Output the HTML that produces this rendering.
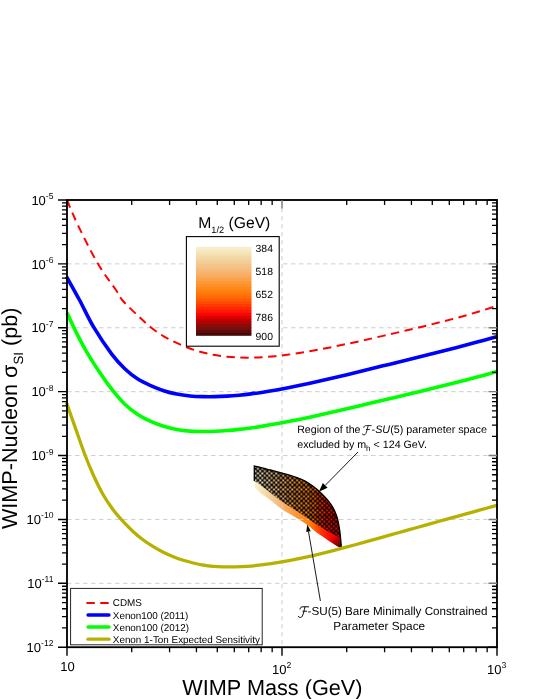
<!DOCTYPE html>
<html><head><meta charset="utf-8"><title>WIMP-Nucleon cross-section</title>
<style>html,body{margin:0;padding:0;background:#fff;}body{width:540px;height:699px;overflow:hidden;}svg{display:block;will-change:transform;}text{font-family:'Liberation Sans', sans-serif;fill:#000;text-rendering:geometricPrecision;}</style></head><body>
<svg width="540" height="699" viewBox="0 0 540 699">
<defs>
<linearGradient id="wg" gradientUnits="userSpaceOnUse" x1="255" y1="500" x2="341" y2="500"><stop offset="0.000" stop-color="#F7F2D2"/><stop offset="0.090" stop-color="#F4E1B3"/><stop offset="0.180" stop-color="#F2CF98"/><stop offset="0.270" stop-color="#F5BD7E"/><stop offset="0.357" stop-color="#F8AB5E"/><stop offset="0.440" stop-color="#FB9D42"/><stop offset="0.523" stop-color="#FD8F27"/><stop offset="0.593" stop-color="#FE8818"/><stop offset="0.651" stop-color="#FF7D0D"/><stop offset="0.714" stop-color="#FF5402"/><stop offset="0.777" stop-color="#FF2F03"/><stop offset="0.840" stop-color="#FF1408"/><stop offset="0.900" stop-color="#F80B04"/><stop offset="1.000" stop-color="#F10100"/></linearGradient>
<radialGradient id="tip" gradientUnits="userSpaceOnUse" cx="342.2" cy="548.6" r="19"><stop offset="0" stop-color="#300404" stop-opacity="1"/><stop offset="0.2" stop-color="#500606" stop-opacity="1"/><stop offset="0.42" stop-color="#900404" stop-opacity="0.95"/><stop offset="0.6" stop-color="#B80000" stop-opacity="0.85"/><stop offset="0.82" stop-color="#E80000" stop-opacity="0.35"/><stop offset="1" stop-color="#F80000" stop-opacity="0"/></radialGradient>
<pattern id="hatch" patternUnits="userSpaceOnUse" x="253.3" y="466.5" width="23.00" height="23.00"><path d="M-1.00 -24.00 L24.00 1.00 M-1.00 1.00 L24.00 -24.00 M-1.00 -19.40 L24.00 5.60 M-1.00 5.60 L24.00 -19.40 M-1.00 -14.80 L24.00 10.20 M-1.00 10.20 L24.00 -14.80 M-1.00 -10.20 L24.00 14.80 M-1.00 14.80 L24.00 -10.20 M-1.00 -5.60 L24.00 19.40 M-1.00 19.40 L24.00 -5.60 M-1.00 -1.00 L24.00 24.00 M-1.00 24.00 L24.00 -1.00 M-1.00 3.60 L24.00 28.60 M-1.00 28.60 L24.00 3.60 M-1.00 8.20 L24.00 33.20 M-1.00 33.20 L24.00 8.20 M-1.00 12.80 L24.00 37.80 M-1.00 37.80 L24.00 12.80 M-1.00 17.40 L24.00 42.40 M-1.00 42.40 L24.00 17.40 M-1.00 22.00 L24.00 47.00 M-1.00 47.00 L24.00 22.00" stroke="#000" stroke-width="1.00" fill="none"/><circle cx="0.00" cy="0.00" r="1.35"/><circle cx="0.00" cy="4.60" r="1.35"/><circle cx="0.00" cy="9.20" r="1.35"/><circle cx="0.00" cy="13.80" r="1.35"/><circle cx="0.00" cy="18.40" r="1.35"/><circle cx="0.00" cy="23.00" r="1.35"/><circle cx="2.30" cy="2.30" r="1.35"/><circle cx="2.30" cy="6.90" r="1.35"/><circle cx="2.30" cy="11.50" r="1.35"/><circle cx="2.30" cy="16.10" r="1.35"/><circle cx="2.30" cy="20.70" r="1.35"/><circle cx="4.60" cy="0.00" r="1.35"/><circle cx="4.60" cy="4.60" r="1.35"/><circle cx="4.60" cy="9.20" r="1.35"/><circle cx="4.60" cy="13.80" r="1.35"/><circle cx="4.60" cy="18.40" r="1.35"/><circle cx="4.60" cy="23.00" r="1.35"/><circle cx="6.90" cy="2.30" r="1.35"/><circle cx="6.90" cy="6.90" r="1.35"/><circle cx="6.90" cy="11.50" r="1.35"/><circle cx="6.90" cy="16.10" r="1.35"/><circle cx="6.90" cy="20.70" r="1.35"/><circle cx="9.20" cy="0.00" r="1.35"/><circle cx="9.20" cy="4.60" r="1.35"/><circle cx="9.20" cy="9.20" r="1.35"/><circle cx="9.20" cy="13.80" r="1.35"/><circle cx="9.20" cy="18.40" r="1.35"/><circle cx="9.20" cy="23.00" r="1.35"/><circle cx="11.50" cy="2.30" r="1.35"/><circle cx="11.50" cy="6.90" r="1.35"/><circle cx="11.50" cy="11.50" r="1.35"/><circle cx="11.50" cy="16.10" r="1.35"/><circle cx="11.50" cy="20.70" r="1.35"/><circle cx="13.80" cy="0.00" r="1.35"/><circle cx="13.80" cy="4.60" r="1.35"/><circle cx="13.80" cy="9.20" r="1.35"/><circle cx="13.80" cy="13.80" r="1.35"/><circle cx="13.80" cy="18.40" r="1.35"/><circle cx="13.80" cy="23.00" r="1.35"/><circle cx="16.10" cy="2.30" r="1.35"/><circle cx="16.10" cy="6.90" r="1.35"/><circle cx="16.10" cy="11.50" r="1.35"/><circle cx="16.10" cy="16.10" r="1.35"/><circle cx="16.10" cy="20.70" r="1.35"/><circle cx="18.40" cy="0.00" r="1.35"/><circle cx="18.40" cy="4.60" r="1.35"/><circle cx="18.40" cy="9.20" r="1.35"/><circle cx="18.40" cy="13.80" r="1.35"/><circle cx="18.40" cy="18.40" r="1.35"/><circle cx="18.40" cy="23.00" r="1.35"/><circle cx="20.70" cy="2.30" r="1.35"/><circle cx="20.70" cy="6.90" r="1.35"/><circle cx="20.70" cy="11.50" r="1.35"/><circle cx="20.70" cy="16.10" r="1.35"/><circle cx="20.70" cy="20.70" r="1.35"/><circle cx="23.00" cy="0.00" r="1.35"/><circle cx="23.00" cy="4.60" r="1.35"/><circle cx="23.00" cy="9.20" r="1.35"/><circle cx="23.00" cy="13.80" r="1.35"/><circle cx="23.00" cy="18.40" r="1.35"/><circle cx="23.00" cy="23.00" r="1.35"/></pattern>
</defs>
<rect width="540" height="699" fill="#fff"/>
<path d="M254.30 466.00 C255.58 466.30 259.35 467.13 262.00 467.80 C264.65 468.47 266.98 469.13 270.20 470.00 C273.42 470.87 277.60 472.00 281.30 473.00 C285.00 474.00 289.07 474.95 292.40 476.00 C295.73 477.05 298.70 478.17 301.30 479.30 C303.90 480.43 305.17 480.92 308.00 482.80 C310.83 484.68 314.53 487.08 318.30 490.60 C322.07 494.12 327.53 499.65 330.60 503.90 C333.67 508.15 335.18 511.68 336.70 516.10 C338.22 520.52 338.93 525.33 339.70 530.40 C340.47 535.47 341.03 543.82 341.30 546.50 L341.50 548.30 C340.35 547.65 337.10 545.92 334.60 544.40 C332.10 542.88 329.55 541.23 326.50 539.20 C323.45 537.17 319.38 534.47 316.30 532.20 C313.22 529.93 310.68 527.60 308.00 525.60 C305.32 523.60 302.80 521.88 300.20 520.20 C297.60 518.52 295.55 517.42 292.40 515.50 C289.25 513.58 285.00 511.28 281.30 508.70 C277.60 506.12 273.90 502.78 270.20 500.00 C266.50 497.22 261.67 494.03 259.10 492.00 C256.53 489.97 255.52 488.50 254.80 487.80 Z" fill="url(#wg)"/>
<path d="M254.30 466.00 C255.58 466.30 259.35 467.13 262.00 467.80 C264.65 468.47 266.98 469.13 270.20 470.00 C273.42 470.87 277.60 472.00 281.30 473.00 C285.00 474.00 289.07 474.95 292.40 476.00 C295.73 477.05 298.70 478.17 301.30 479.30 C303.90 480.43 305.17 480.92 308.00 482.80 C310.83 484.68 314.53 487.08 318.30 490.60 C322.07 494.12 327.53 499.65 330.60 503.90 C333.67 508.15 335.18 511.68 336.70 516.10 C338.22 520.52 338.93 525.33 339.70 530.40 C340.47 535.47 341.03 543.82 341.30 546.50 L341.50 548.30 C340.35 547.65 337.10 545.92 334.60 544.40 C332.10 542.88 329.55 541.23 326.50 539.20 C323.45 537.17 319.38 534.47 316.30 532.20 C313.22 529.93 310.68 527.60 308.00 525.60 C305.32 523.60 302.80 521.88 300.20 520.20 C297.60 518.52 295.55 517.42 292.40 515.50 C289.25 513.58 285.00 511.28 281.30 508.70 C277.60 506.12 273.90 502.78 270.20 500.00 C266.50 497.22 261.67 494.03 259.10 492.00 C256.53 489.97 255.52 488.50 254.80 487.80 Z" fill="url(#tip)"/>
<path d="M67.0 263.89 H497.0 M67.0 327.77 H497.0 M67.0 391.66 H497.0 M67.0 455.54 H497.0 M67.0 519.43 H497.0 M67.0 583.31 H497.0 M282.00 200.0 V647.2" stroke="#CBCBCB" stroke-width="0.95" stroke-dasharray="4.5 3.5" fill="none"/>
<path d="M67.00 200.00 C68.93 204.43 73.42 215.92 78.60 226.60 C83.78 237.28 91.90 253.57 98.10 264.10 C104.30 274.63 111.78 283.82 115.80 289.80 C119.82 295.78 118.53 295.70 122.20 300.00 C125.87 304.30 133.05 311.07 137.80 315.60 C142.55 320.13 146.38 323.75 150.70 327.20 C155.02 330.65 159.37 333.68 163.70 336.30 C168.03 338.92 172.32 340.87 176.70 342.91 C181.08 344.94 185.62 346.93 190.00 348.53 C194.38 350.14 198.83 351.45 203.00 352.54 C207.17 353.63 211.00 354.39 215.00 355.08 C219.00 355.78 223.00 356.30 227.00 356.71 C231.00 357.11 235.00 357.37 239.00 357.52 C243.00 357.68 247.00 357.70 251.00 357.65 C255.00 357.59 259.00 357.42 263.00 357.17 C267.00 356.93 271.00 356.59 275.00 356.20 C279.00 355.81 283.00 355.33 287.00 354.81 C291.00 354.28 295.00 353.69 299.00 353.07 C303.00 352.44 307.00 351.76 311.00 351.06 C315.00 350.35 319.00 349.60 323.00 348.82 C327.00 348.05 331.00 347.25 335.00 346.43 C339.00 345.61 343.00 344.76 347.00 343.90 C351.00 343.05 355.00 342.17 359.00 341.29 C363.00 340.40 367.00 339.51 371.00 338.61 C375.00 337.70 379.00 336.79 383.00 335.87 C387.00 334.96 391.00 334.03 395.00 333.10 C399.00 332.17 403.00 331.24 407.00 330.29 C411.00 329.34 415.00 328.39 419.00 327.43 C423.00 326.46 427.00 325.49 431.00 324.50 C435.00 323.51 439.00 322.51 443.00 321.49 C447.00 320.46 451.00 319.42 455.00 318.35 C459.00 317.28 463.00 316.18 467.00 315.05 C471.00 313.91 475.00 312.75 479.00 311.53 C483.00 310.31 488.00 308.71 491.00 307.74 C494.00 306.77 496.00 306.06 497.00 305.72" fill="none" stroke="#FF0000" stroke-width="2" stroke-dasharray="8.4 5.5"/>
<path d="M66.50 276.60 C68.67 280.50 74.97 291.57 79.50 300.00 C84.03 308.43 88.30 318.13 93.70 327.20 C99.10 336.27 106.72 347.48 111.90 354.40 C117.08 361.32 120.48 364.58 124.80 368.70 C129.12 372.82 133.48 376.28 137.80 379.10 C142.12 381.92 146.38 383.67 150.70 385.60 C155.02 387.53 159.37 389.29 163.70 390.70 C168.03 392.11 172.32 393.20 176.70 394.07 C181.08 394.94 185.62 395.50 190.00 395.93 C194.38 396.36 198.83 396.52 203.00 396.64 C207.17 396.76 211.00 396.74 215.00 396.66 C219.00 396.59 223.00 396.41 227.00 396.17 C231.00 395.92 235.00 395.59 239.00 395.21 C243.00 394.82 247.00 394.36 251.00 393.85 C255.00 393.35 259.00 392.77 263.00 392.16 C267.00 391.55 271.00 390.88 275.00 390.18 C279.00 389.48 283.00 388.73 287.00 387.96 C291.00 387.19 295.00 386.38 299.00 385.55 C303.00 384.72 307.00 383.85 311.00 382.98 C315.00 382.10 319.00 381.20 323.00 380.28 C327.00 379.37 331.00 378.44 335.00 377.50 C339.00 376.56 343.00 375.60 347.00 374.64 C351.00 373.69 355.00 372.72 359.00 371.75 C363.00 370.77 367.00 369.80 371.00 368.82 C375.00 367.84 379.00 366.86 383.00 365.87 C387.00 364.89 391.00 363.90 395.00 362.92 C399.00 361.93 403.00 360.94 407.00 359.95 C411.00 358.96 415.00 357.97 419.00 356.98 C423.00 355.99 427.00 354.99 431.00 353.99 C435.00 352.99 439.00 351.99 443.00 350.98 C447.00 349.97 451.00 348.95 455.00 347.93 C459.00 346.90 463.00 345.86 467.00 344.81 C471.00 343.76 475.00 342.70 479.00 341.61 C483.00 340.52 487.90 339.16 491.00 338.30 C494.10 337.43 496.50 336.73 497.60 336.41" fill="none" stroke="#0000FF" stroke-width="3.6" stroke-linejoin="round"/>
<path d="M67.00 312.70 C68.43 315.77 72.45 324.78 75.60 331.10 C78.75 337.42 82.02 343.90 85.90 350.60 C89.78 357.30 94.57 364.83 98.90 371.30 C103.23 377.77 107.58 383.92 111.90 389.40 C116.22 394.88 120.48 400.03 124.80 404.20 C129.12 408.37 133.48 411.53 137.80 414.40 C142.12 417.27 146.38 419.42 150.70 421.40 C155.02 423.38 159.37 424.95 163.70 426.30 C168.03 427.65 172.32 428.72 176.70 429.52 C181.08 430.33 185.62 430.78 190.00 431.11 C194.38 431.43 198.83 431.45 203.00 431.48 C207.17 431.50 211.00 431.40 215.00 431.25 C219.00 431.09 223.00 430.84 227.00 430.53 C231.00 430.23 235.00 429.84 239.00 429.41 C243.00 428.97 247.00 428.47 251.00 427.92 C255.00 427.38 259.00 426.78 263.00 426.14 C267.00 425.50 271.00 424.81 275.00 424.10 C279.00 423.39 283.00 422.63 287.00 421.85 C291.00 421.08 295.00 420.27 299.00 419.44 C303.00 418.61 307.00 417.76 311.00 416.89 C315.00 416.03 319.00 415.14 323.00 414.25 C327.00 413.35 331.00 412.44 335.00 411.53 C339.00 410.61 343.00 409.68 347.00 408.75 C351.00 407.83 355.00 406.89 359.00 405.95 C363.00 405.01 367.00 404.07 371.00 403.12 C375.00 402.18 379.00 401.23 383.00 400.28 C387.00 399.33 391.00 398.38 395.00 397.43 C399.00 396.48 403.00 395.53 407.00 394.57 C411.00 393.62 415.00 392.66 419.00 391.70 C423.00 390.74 427.00 389.77 431.00 388.80 C435.00 387.82 439.00 386.85 443.00 385.86 C447.00 384.87 451.00 383.87 455.00 382.86 C459.00 381.84 463.00 380.82 467.00 379.77 C471.00 378.73 475.00 377.67 479.00 376.58 C483.00 375.49 487.90 374.11 491.00 373.24 C494.10 372.36 496.50 371.65 497.60 371.33" fill="none" stroke="#00FF00" stroke-width="3.6" stroke-linejoin="round"/>
<path d="M66.50 402.80 C68.20 407.62 73.62 423.00 76.70 431.70 C79.78 440.40 82.23 447.78 85.00 455.00 C87.77 462.22 90.25 468.33 93.30 475.00 C96.35 481.67 99.97 489.17 103.30 495.00 C106.63 500.83 109.97 505.55 113.30 510.00 C116.63 514.45 119.97 518.08 123.30 521.70 C126.63 525.32 129.97 528.65 133.30 531.70 C136.63 534.75 139.97 537.50 143.30 540.00 C146.63 542.50 149.97 544.65 153.30 546.70 C156.63 548.75 159.97 550.63 163.30 552.30 C166.63 553.97 169.97 555.37 173.30 556.70 C176.63 558.03 179.97 559.25 183.30 560.30 C186.63 561.35 189.97 562.21 193.30 563.00 C196.63 563.79 199.97 564.51 203.30 565.05 C206.63 565.60 209.97 565.98 213.30 566.27 C216.63 566.57 219.63 566.72 223.30 566.83 C226.97 566.93 231.30 566.96 235.30 566.88 C239.30 566.80 243.30 566.60 247.30 566.32 C251.30 566.05 255.30 565.67 259.30 565.23 C263.30 564.79 267.30 564.26 271.30 563.68 C275.30 563.09 279.30 562.43 283.30 561.72 C287.30 561.02 291.30 560.24 295.30 559.43 C299.30 558.62 303.30 557.76 307.30 556.86 C311.30 555.97 315.30 555.03 319.30 554.06 C323.30 553.10 327.30 552.10 331.30 551.08 C335.30 550.06 339.30 549.01 343.30 547.96 C347.30 546.90 351.30 545.82 355.30 544.73 C359.30 543.64 363.30 542.54 367.30 541.43 C371.30 540.32 375.30 539.20 379.30 538.08 C383.30 536.96 387.30 535.84 391.30 534.71 C395.30 533.59 399.30 532.46 403.30 531.34 C407.30 530.22 411.30 529.09 415.30 527.97 C419.30 526.85 423.30 525.73 427.30 524.62 C431.30 523.50 435.30 522.39 439.30 521.28 C443.30 520.17 447.30 519.07 451.30 517.96 C455.30 516.86 459.30 515.75 463.30 514.65 C467.30 513.55 471.30 512.44 475.30 511.33 C479.30 510.22 483.58 509.04 487.30 508.00 C491.02 506.96 495.88 505.58 497.60 505.10" fill="none" stroke="#B6B000" stroke-width="3.3" stroke-linejoin="round"/>
<path d="M254.30 466.00 C255.58 466.30 259.35 467.13 262.00 467.80 C264.65 468.47 266.98 469.13 270.20 470.00 C273.42 470.87 277.60 472.00 281.30 473.00 C285.00 474.00 289.07 474.95 292.40 476.00 C295.73 477.05 298.70 478.17 301.30 479.30 C303.90 480.43 305.17 480.92 308.00 482.80 C310.83 484.68 314.53 487.08 318.30 490.60 C322.07 494.12 327.53 499.65 330.60 503.90 C333.67 508.15 335.18 511.68 336.70 516.10 C338.22 520.52 338.93 525.33 339.70 530.40 C340.47 535.47 341.03 543.82 341.30 546.50 L340.20 537.50 C339.27 537.07 336.88 536.08 334.60 534.90 C332.32 533.72 329.55 532.17 326.50 530.40 C323.45 528.63 320.12 526.80 316.30 524.30 C312.48 521.80 307.58 518.08 303.60 515.40 C299.62 512.72 296.12 510.58 292.40 508.20 C288.68 505.82 285.00 503.73 281.30 501.10 C277.60 498.47 273.90 495.27 270.20 492.40 C266.50 489.53 261.75 485.77 259.10 483.90 C256.45 482.03 255.10 481.65 254.30 481.20 Z" fill="url(#wg)"/>
<path d="M254.30 466.00 C255.58 466.30 259.35 467.13 262.00 467.80 C264.65 468.47 266.98 469.13 270.20 470.00 C273.42 470.87 277.60 472.00 281.30 473.00 C285.00 474.00 289.07 474.95 292.40 476.00 C295.73 477.05 298.70 478.17 301.30 479.30 C303.90 480.43 305.17 480.92 308.00 482.80 C310.83 484.68 314.53 487.08 318.30 490.60 C322.07 494.12 327.53 499.65 330.60 503.90 C333.67 508.15 335.18 511.68 336.70 516.10 C338.22 520.52 338.93 525.33 339.70 530.40 C340.47 535.47 341.03 543.82 341.30 546.50 L340.20 537.50 C339.27 537.07 336.88 536.08 334.60 534.90 C332.32 533.72 329.55 532.17 326.50 530.40 C323.45 528.63 320.12 526.80 316.30 524.30 C312.48 521.80 307.58 518.08 303.60 515.40 C299.62 512.72 296.12 510.58 292.40 508.20 C288.68 505.82 285.00 503.73 281.30 501.10 C277.60 498.47 273.90 495.27 270.20 492.40 C266.50 489.53 261.75 485.77 259.10 483.90 C256.45 482.03 255.10 481.65 254.30 481.20 Z" fill="url(#tip)"/>
<path d="M254.30 466.00 C255.58 466.30 259.35 467.13 262.00 467.80 C264.65 468.47 266.98 469.13 270.20 470.00 C273.42 470.87 277.60 472.00 281.30 473.00 C285.00 474.00 289.07 474.95 292.40 476.00 C295.73 477.05 298.70 478.17 301.30 479.30 C303.90 480.43 305.17 480.92 308.00 482.80 C310.83 484.68 314.53 487.08 318.30 490.60 C322.07 494.12 327.53 499.65 330.60 503.90 C333.67 508.15 335.18 511.68 336.70 516.10 C338.22 520.52 338.93 525.33 339.70 530.40 C340.47 535.47 341.03 543.82 341.30 546.50 L340.20 537.50 C339.27 537.07 336.88 536.08 334.60 534.90 C332.32 533.72 329.55 532.17 326.50 530.40 C323.45 528.63 320.12 526.80 316.30 524.30 C312.48 521.80 307.58 518.08 303.60 515.40 C299.62 512.72 296.12 510.58 292.40 508.20 C288.68 505.82 285.00 503.73 281.30 501.10 C277.60 498.47 273.90 495.27 270.20 492.40 C266.50 489.53 261.75 485.77 259.10 483.90 C256.45 482.03 255.10 481.65 254.30 481.20 Z" fill="url(#hatch)"/>
<path d="M341.30 546.50 C341.03 543.82 340.47 535.47 339.70 530.40 C338.93 525.33 338.22 520.52 336.70 516.10 C335.18 511.68 333.67 508.15 330.60 503.90 C327.53 499.65 322.07 494.12 318.30 490.60 C314.53 487.08 310.83 484.68 308.00 482.80 C305.17 480.92 303.90 480.43 301.30 479.30 C298.70 478.17 295.73 477.05 292.40 476.00 C289.07 474.95 285.00 474.00 281.30 473.00 C277.60 472.00 273.42 470.87 270.20 470.00 C266.98 469.13 264.65 468.47 262.00 467.80 C259.35 467.13 255.58 466.30 254.30 466.00 L254.3 481" fill="none" stroke="#000" stroke-width="1.3"/>
<rect x="67.0" y="200.0" width="430.0" height="447.2" fill="none" stroke="#000" stroke-width="1.85"/>
<path d="M67.0 200.00 h-9 M497.0 200.00 h-8.5 M67.0 263.89 h-9 M67.0 327.77 h-9 M67.0 391.66 h-9 M67.0 455.54 h-9 M67.0 519.43 h-9 M67.0 583.31 h-9 M67.0 647.20 h-9 M497.0 647.20 h-8.5 M67.00 647.2 v8.5 M282.00 647.2 v8.5 M497.00 647.2 v8.5" stroke="#000" stroke-width="1.4" fill="none"/>
<path d="M497.0 263.89 h-8.5 M497.0 327.77 h-8.5 M497.0 391.66 h-8.5 M497.0 455.54 h-8.5 M497.0 519.43 h-8.5 M497.0 583.31 h-8.5 M282.00 200.0 v8.5" stroke="#7A7A7A" stroke-width="1.4" fill="none"/>
<path d="M67.0 244.65 h-5 M497.0 244.65 h-5 M67.0 233.40 h-5 M497.0 233.40 h-5 M67.0 225.42 h-5 M497.0 225.42 h-5 M67.0 219.23 h-5 M497.0 219.23 h-5 M67.0 214.17 h-5 M497.0 214.17 h-5 M67.0 209.90 h-5 M497.0 209.90 h-5 M67.0 206.19 h-5 M497.0 206.19 h-5 M67.0 202.92 h-5 M497.0 202.92 h-5 M67.0 308.54 h-5 M497.0 308.54 h-5 M67.0 297.29 h-5 M497.0 297.29 h-5 M67.0 289.31 h-5 M497.0 289.31 h-5 M67.0 283.12 h-5 M497.0 283.12 h-5 M67.0 278.06 h-5 M497.0 278.06 h-5 M67.0 273.78 h-5 M497.0 273.78 h-5 M67.0 270.08 h-5 M497.0 270.08 h-5 M67.0 266.81 h-5 M497.0 266.81 h-5 M67.0 372.43 h-5 M497.0 372.43 h-5 M67.0 361.18 h-5 M497.0 361.18 h-5 M67.0 353.19 h-5 M497.0 353.19 h-5 M67.0 347.00 h-5 M497.0 347.00 h-5 M67.0 341.94 h-5 M497.0 341.94 h-5 M67.0 337.67 h-5 M497.0 337.67 h-5 M67.0 333.96 h-5 M497.0 333.96 h-5 M67.0 330.69 h-5 M497.0 330.69 h-5 M67.0 436.31 h-5 M497.0 436.31 h-5 M67.0 425.06 h-5 M497.0 425.06 h-5 M67.0 417.08 h-5 M497.0 417.08 h-5 M67.0 410.89 h-5 M497.0 410.89 h-5 M67.0 405.83 h-5 M497.0 405.83 h-5 M67.0 401.55 h-5 M497.0 401.55 h-5 M67.0 397.85 h-5 M497.0 397.85 h-5 M67.0 394.58 h-5 M497.0 394.58 h-5 M67.0 500.20 h-5 M497.0 500.20 h-5 M67.0 488.95 h-5 M497.0 488.95 h-5 M67.0 480.97 h-5 M497.0 480.97 h-5 M67.0 474.77 h-5 M497.0 474.77 h-5 M67.0 469.72 h-5 M497.0 469.72 h-5 M67.0 465.44 h-5 M497.0 465.44 h-5 M67.0 461.73 h-5 M497.0 461.73 h-5 M67.0 458.47 h-5 M497.0 458.47 h-5 M67.0 564.08 h-5 M497.0 564.08 h-5 M67.0 552.83 h-5 M497.0 552.83 h-5 M67.0 544.85 h-5 M497.0 544.85 h-5 M67.0 538.66 h-5 M497.0 538.66 h-5 M67.0 533.60 h-5 M497.0 533.60 h-5 M67.0 529.32 h-5 M497.0 529.32 h-5 M67.0 525.62 h-5 M497.0 525.62 h-5 M67.0 522.35 h-5 M497.0 522.35 h-5 M67.0 627.97 h-5 M497.0 627.97 h-5 M67.0 616.72 h-5 M497.0 616.72 h-5 M67.0 608.74 h-5 M497.0 608.74 h-5 M67.0 602.55 h-5 M497.0 602.55 h-5 M67.0 597.49 h-5 M497.0 597.49 h-5 M67.0 593.21 h-5 M497.0 593.21 h-5 M67.0 589.51 h-5 M497.0 589.51 h-5 M67.0 586.24 h-5 M497.0 586.24 h-5 M131.72 647.2 v5 M131.72 200.0 v5 M169.58 647.2 v5 M169.58 200.0 v5 M196.44 647.2 v5 M196.44 200.0 v5 M217.28 647.2 v5 M217.28 200.0 v5 M234.30 647.2 v5 M234.30 200.0 v5 M248.70 647.2 v5 M248.70 200.0 v5 M261.16 647.2 v5 M261.16 200.0 v5 M272.16 647.2 v5 M272.16 200.0 v5 M346.72 647.2 v5 M346.72 200.0 v5 M384.58 647.2 v5 M384.58 200.0 v5 M411.44 647.2 v5 M411.44 200.0 v5 M432.28 647.2 v5 M432.28 200.0 v5 M449.30 647.2 v5 M449.30 200.0 v5 M463.70 647.2 v5 M463.70 200.0 v5 M476.16 647.2 v5 M476.16 200.0 v5 M487.16 647.2 v5 M487.16 200.0 v5" stroke="#000" stroke-width="1.3" fill="none"/>
<text x="53.5" y="204.70" font-size="13.0" text-anchor="end">10<tspan font-size="8.6" dy="-5.7">-5</tspan></text>
<text x="53.5" y="268.59" font-size="13.0" text-anchor="end">10<tspan font-size="8.6" dy="-5.7">-6</tspan></text>
<text x="53.5" y="332.47" font-size="13.0" text-anchor="end">10<tspan font-size="8.6" dy="-5.7">-7</tspan></text>
<text x="53.5" y="396.36" font-size="13.0" text-anchor="end">10<tspan font-size="8.6" dy="-5.7">-8</tspan></text>
<text x="53.5" y="460.24" font-size="13.0" text-anchor="end">10<tspan font-size="8.6" dy="-5.7">-9</tspan></text>
<text x="53.5" y="524.13" font-size="13.0" text-anchor="end">10<tspan font-size="8.6" dy="-5.7">-10</tspan></text>
<text x="53.5" y="588.01" font-size="13.0" text-anchor="end">10<tspan font-size="8.6" dy="-5.7">-11</tspan></text>
<text x="53.5" y="651.90" font-size="13.0" text-anchor="end">10<tspan font-size="8.6" dy="-5.7">-12</tspan></text>
<text x="67.4" y="671.4" font-size="13.0" text-anchor="middle">10</text>
<text x="286.40" y="673.9" font-size="13.0" text-anchor="end">10</text>
<text x="286.40" y="668.0" font-size="8.6">2</text>
<text x="501.40" y="673.9" font-size="13.0" text-anchor="end">10</text>
<text x="501.40" y="668.0" font-size="8.6">3</text>
<text x="272.4" y="695.4" font-size="21.7" text-anchor="middle">WIMP Mass (GeV)</text>
<g transform="translate(17.3 418.3) rotate(-90)"><text x="0" y="0" font-size="21.6" text-anchor="middle">WIMP-Nucleon σ<tspan font-size="13.4" dy="5.6">SI</tspan><tspan dy="-5.6"> (pb)</tspan></text></g>
<rect x="186.4" y="236.6" width="92.8" height="109.6" fill="#fff" stroke="#000" stroke-width="1.1"/>
<rect x="196.0" y="246.80" width="55.4" height="4.07" fill="#F6EFCC"/>
<rect x="196.0" y="249.67" width="55.4" height="4.07" fill="#F5E8C0"/>
<rect x="196.0" y="252.54" width="55.4" height="4.07" fill="#F4E2B4"/>
<rect x="196.0" y="255.41" width="55.4" height="4.07" fill="#F3DBA9"/>
<rect x="196.0" y="258.28" width="55.4" height="4.07" fill="#F2D39F"/>
<rect x="196.0" y="261.15" width="55.4" height="4.07" fill="#F3CC95"/>
<rect x="196.0" y="264.03" width="55.4" height="4.07" fill="#F4C58B"/>
<rect x="196.0" y="266.90" width="55.4" height="4.07" fill="#F5BF81"/>
<rect x="196.0" y="269.77" width="55.4" height="4.07" fill="#F6B774"/>
<rect x="196.0" y="272.64" width="55.4" height="4.07" fill="#F7B067"/>
<rect x="196.0" y="275.51" width="55.4" height="4.07" fill="#F9A959"/>
<rect x="196.0" y="278.38" width="55.4" height="4.07" fill="#FAA149"/>
<rect x="196.0" y="281.25" width="55.4" height="4.07" fill="#FC9839"/>
<rect x="196.0" y="284.12" width="55.4" height="4.07" fill="#FD9129"/>
<rect x="196.0" y="286.99" width="55.4" height="4.07" fill="#FE8919"/>
<rect x="196.0" y="289.86" width="55.4" height="4.07" fill="#FF800E"/>
<rect x="196.0" y="292.74" width="55.4" height="4.07" fill="#FF750A"/>
<rect x="196.0" y="295.61" width="55.4" height="4.07" fill="#FF6B05"/>
<rect x="196.0" y="298.48" width="55.4" height="4.07" fill="#FF5B03"/>
<rect x="196.0" y="301.35" width="55.4" height="4.07" fill="#FF4A01"/>
<rect x="196.0" y="304.22" width="55.4" height="4.07" fill="#FF3901"/>
<rect x="196.0" y="307.09" width="55.4" height="4.07" fill="#FF2704"/>
<rect x="196.0" y="309.96" width="55.4" height="4.07" fill="#FF1608"/>
<rect x="196.0" y="312.83" width="55.4" height="4.07" fill="#F60803"/>
<rect x="196.0" y="315.70" width="55.4" height="4.07" fill="#E30000"/>
<rect x="196.0" y="318.57" width="55.4" height="4.07" fill="#C30000"/>
<rect x="196.0" y="321.45" width="55.4" height="4.07" fill="#A80505"/>
<rect x="196.0" y="324.32" width="55.4" height="4.07" fill="#8D0A0A"/>
<rect x="196.0" y="327.19" width="55.4" height="4.07" fill="#730F0F"/>
<rect x="196.0" y="330.06" width="55.4" height="4.07" fill="#5D0B0B"/>
<rect x="196.0" y="332.93" width="55.4" height="2.87" fill="#490707"/>
<text x="255.6" y="252.3" font-size="10.4">384</text>
<text x="255.6" y="275.1" font-size="10.4">518</text>
<text x="255.6" y="298.0" font-size="10.4">652</text>
<text x="255.6" y="320.8" font-size="10.4">786</text>
<text x="255.6" y="340.2" font-size="10.4">900</text>
<text x="234.3" y="227.7" font-size="15.7" text-anchor="middle">M<tspan font-size="9.2" dy="5.4">1/2</tspan><tspan dy="-5.4"> (GeV)</tspan></text>
<rect x="70.6" y="588.4" width="191.6" height="56.4" fill="#fff" stroke="#1a1a1a" stroke-width="0.95"/>
<path d="M86.4 602.9 H110.4" stroke="#FF0000" stroke-width="2" stroke-dasharray="8.4 5.5" fill="none"/>
<path d="M88 615.0 H109" stroke="#0000FF" stroke-width="3.3" stroke-linecap="round" fill="none"/>
<path d="M88 627.0 H109" stroke="#00FF00" stroke-width="3.3" stroke-linecap="round" fill="none"/>
<path d="M88 639.2 H109" stroke="#B6B000" stroke-width="3.3" stroke-linecap="round" fill="none"/>
<text x="112.8" y="606.4" font-size="9.9">CDMS</text>
<text x="112.8" y="618.5" font-size="9.9">Xenon100 (2011)</text>
<text x="112.8" y="630.5" font-size="9.9">Xenon100 (2012)</text>
<text x="112.8" y="642.7" font-size="9.9">Xenon 1-Ton Expected Sensitivity</text>
<g transform="translate(362.00 433.10) scale(0.870)" fill="none" stroke="#000" stroke-width="0.95" stroke-linecap="round" stroke-linejoin="round"><path d="M2.0 -6.4 C2.3 -8.3 3.4 -8.6 5.0 -8.6 L10.6 -8.6"/><path d="M7.0 -8.5 C6.1 -4.6 5.4 -1.6 4.4 0.6 C3.5 2.6 1.3 2.6 0.2 1.0"/><path d="M5.0 -4.2 L8.6 -4.2"/></g>
<text x="297.2" y="433.3" font-size="10.65">Region of the</text>
<text x="371.6" y="433.3" font-size="10.75">-<tspan font-style="italic">SU</tspan>(5) parameter space</text>
<text x="297.2" y="447.6" font-size="10.7">excluded by m<tspan font-size="8" dy="3.5">h</tspan><tspan dy="-3.5"> &lt; 124 GeV.</tspan></text>
<g transform="translate(298.00 615.40) scale(1.000)" fill="none" stroke="#000" stroke-width="0.95" stroke-linecap="round" stroke-linejoin="round"><path d="M2.0 -6.4 C2.3 -8.3 3.4 -8.6 5.0 -8.6 L10.6 -8.6"/><path d="M7.0 -8.5 C6.1 -4.6 5.4 -1.6 4.4 0.6 C3.5 2.6 1.3 2.6 0.2 1.0"/><path d="M5.0 -4.2 L8.6 -4.2"/></g>
<text x="307.6" y="615.4" font-size="11.65">-SU(5) Bare Minimally Constrained</text>
<text x="333.3" y="630.1" font-size="11.8">Parameter Space</text>
<path d="M358.00 452.00 L325.21 485.38" stroke="#000" stroke-width="0.9" fill="none"/><path d="M318.90 491.80 L322.85 483.07 L327.56 487.69 Z" fill="#000"/>
<path d="M320.40 601.00 L308.52 531.70" stroke="#000" stroke-width="0.9" fill="none"/><path d="M307.30 524.60 L310.78 531.31 L306.25 532.09 Z" fill="#000"/>
</svg></body></html>
